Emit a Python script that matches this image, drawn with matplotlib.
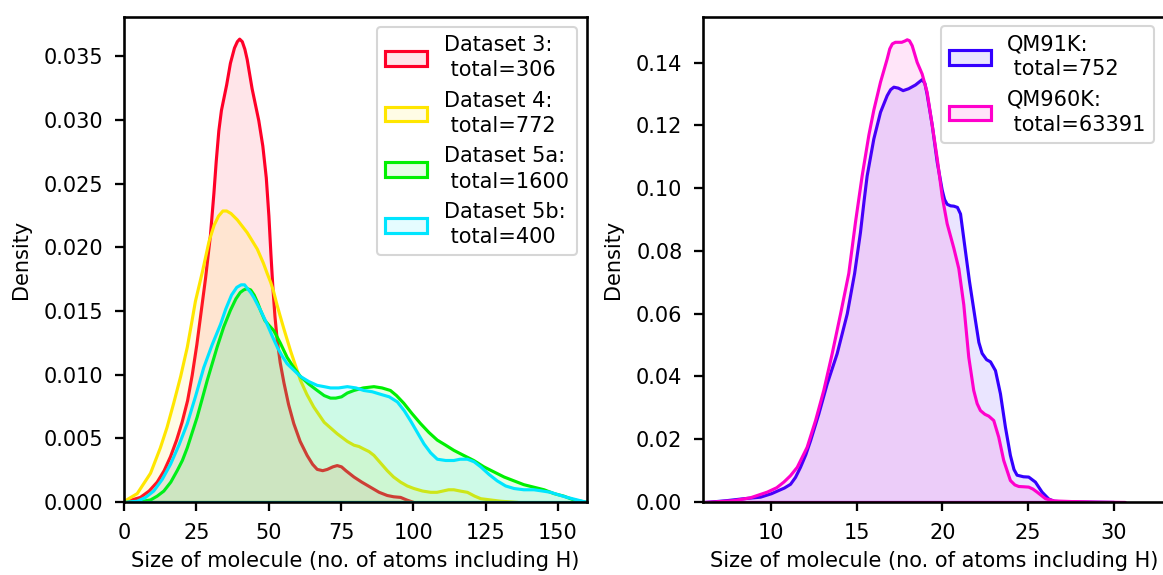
import matplotlib
matplotlib.use("Agg")
import matplotlib.pyplot as plt

# ---------------- Left panel data ----------------
ds3_x = [0, 1, 5.5, 8.5, 11.3, 13.7, 15.9, 18.0, 19.9, 21.8, 23.4, 25.0, 26.5, 28.0, 29.7, 30.9, 31.7, 32.6, 33.5,
         34.4, 35.3, 36.6, 38.0, 39.0, 39.8, 40.7, 41.6, 42.4, 44.1, 46.4, 47.8, 49.0, 49.9, 50.6, 51.3, 52.0,
         52.8, 53.8, 55.1, 56.7, 58.5, 60.7, 63.1, 65.0, 66.6, 68.5, 70.1, 72.0, 73.5, 75.0, 76.5, 79.3, 82.0,
         85.0, 88.0, 90.8, 93.0, 95.4, 97.5, 100.0]
ds3_y = [0.0000, 0.0001, 0.0004, 0.0009, 0.0016, 0.0025, 0.0036, 0.0049, 0.0063, 0.0080, 0.0100, 0.0124, 0.0150,
         0.0176, 0.0210, 0.0243, 0.0268, 0.0292, 0.0308, 0.0318, 0.0328, 0.0345, 0.0357, 0.0362, 0.0364, 0.0362,
         0.0356, 0.0348, 0.0325, 0.0300, 0.0280, 0.0255, 0.0225, 0.0195, 0.0168, 0.0146, 0.0127, 0.0110, 0.0094,
         0.0077, 0.0062, 0.0048, 0.0037, 0.0030, 0.0026, 0.0025, 0.0026, 0.0028, 0.0029, 0.0028, 0.0025, 0.0020,
         0.0016, 0.0012, 0.0008, 0.00055, 0.00045, 0.0004, 0.0002, 0.0000]

ds4_x = [0, 4.4, 9.0, 12.4, 14.7, 17.0, 19.4, 21.7, 23.2, 24.5, 26.9, 29.2, 31.0, 32.5, 34.0, 35.3, 36.8, 39.0,
         42.4, 45.9, 48.0, 49.3, 50.5, 51.5, 52.5, 53.6, 55.0, 57.4, 60.8, 63.0, 65.4, 69.0, 73.5, 77.0, 79.3,
         81.0, 82.7, 84.5, 86.2, 88.5, 90.8, 93.0, 95.4, 97.7, 100.0, 103.0, 105.8, 108.0, 110.0, 112.0, 113.8,
         116.0, 118.5, 121.0, 123.1, 126.5, 130.0, 136.0]
ds4_y = [0.0001, 0.0007, 0.0023, 0.0043, 0.0059, 0.0078, 0.0099, 0.0122, 0.0141, 0.0158, 0.0181, 0.0205, 0.0218,
         0.0225, 0.0229, 0.0229, 0.0227, 0.0222, 0.0212, 0.0199, 0.0188, 0.0180, 0.0173, 0.0166, 0.0157, 0.0148,
         0.0137, 0.0119, 0.0096, 0.0085, 0.0075, 0.0063, 0.0054, 0.0048, 0.0045, 0.0044, 0.0042, 0.0040, 0.0037,
         0.0031, 0.0025, 0.0020, 0.0016, 0.0013, 0.0011, 0.0009, 0.0008, 0.0008, 0.0009, 0.0010, 0.0010, 0.0009,
         0.0008, 0.0005, 0.0003, 0.0002, 0.0001, 0.0000]

ds5a_x = [0, 2, 5.5, 9.0, 11.3, 13.6, 16.0, 18.2, 20.0, 21.7, 23.4, 25.1, 26.8, 28.6, 30.3, 32.0, 34.3, 36.6, 38.5,
          40.0, 41.2, 42.4, 43.6, 44.8, 46.0, 47.0, 48.5, 50.0, 51.6, 53.9, 56.2, 58.5, 60.8, 63.7, 66.6, 69.0,
          71.2, 73.0, 75.0, 77.0, 79.3, 82.5, 86.2, 89.0, 91.9, 94.0, 96.5, 99.3, 102.3, 105.2, 108.1, 111.0,
          113.8, 117.2, 120.7, 124.2, 127.7, 131.2, 134.6, 138.0, 141.5, 145.0, 148.4, 151.8, 155.3, 157.7, 160]
ds5a_y = [0.0000, 0.00002, 0.00007, 0.0002, 0.0005, 0.0009, 0.0016, 0.0025, 0.0033, 0.0043, 0.0055, 0.0067, 0.0081,
          0.0096, 0.0109, 0.0122, 0.0138, 0.0151, 0.0160, 0.0165, 0.0167, 0.0168, 0.0167, 0.0163, 0.0157, 0.0151,
          0.0143, 0.0139, 0.0135, 0.0125, 0.0114, 0.0106, 0.0099, 0.0093, 0.0088, 0.0084, 0.0082, 0.0082, 0.0083,
          0.0086, 0.0088, 0.0090, 0.0091, 0.0090, 0.0088, 0.0084, 0.0078, 0.0070, 0.0062, 0.0055, 0.0049, 0.0045,
          0.0041, 0.0037, 0.0033, 0.0028, 0.0024, 0.0020, 0.0017, 0.0014, 0.0012, 0.0010, 0.0007, 0.0005, 0.0002,
          0.0001, 0.0000]

ds5b_x = [0, 4.4, 7.3, 10.1, 13.0, 15.9, 18.8, 21.7, 24.5, 27.4, 30.3, 33.2, 35.0, 37.0, 38.8, 40.3, 41.5, 42.5,
          43.6, 44.7, 47.0, 49.3, 51.0, 52.8, 54.5, 56.2, 58.5, 60.8, 63.7, 66.6, 69.0, 71.2, 74.0, 77.0, 80.0,
          82.7, 85.6, 88.5, 91.5, 94.3, 96.7, 98.9, 101.2, 103.5, 105.8, 108.1, 111.0, 113.8, 116.0, 118.5, 120.8,
          123.1, 126.0, 128.8, 131.7, 134.6, 138.0, 141.5, 144.5, 147.3, 150.0, 153.0, 156.5, 160]
ds5b_y = [0.0000, 0.0001, 0.0004, 0.0009, 0.0018, 0.0030, 0.0045, 0.0062, 0.0083, 0.0106, 0.0124, 0.0140, 0.0152,
          0.0163, 0.0169, 0.0171, 0.0171, 0.0168, 0.0165, 0.0161, 0.0151, 0.0140, 0.0131, 0.0122, 0.0115, 0.0109,
          0.0104, 0.0099, 0.0095, 0.0092, 0.0091, 0.0090, 0.0090, 0.0091, 0.0090, 0.0088, 0.0087, 0.0085, 0.0083,
          0.0079, 0.0072, 0.0064, 0.0055, 0.0046, 0.0039, 0.0034, 0.0033, 0.0033, 0.0034, 0.0034, 0.0032, 0.0028,
          0.0022, 0.0017, 0.0013, 0.0011, 0.0010, 0.0010, 0.0009, 0.0008, 0.0006, 0.0004, 0.0002, 0.0000]

left_labels = ["Dataset 3:\n total=306", "Dataset 4:\n total=772",
               "Dataset 5a:\n total=1600", "Dataset 5b:\n total=400"]
left_colors = ["#ff0028", "#ffe600", "#00f000", "#00e5ff"]

# ---------------- Right panel data ----------------
qm1k_x = [6.1, 6.4, 7.41, 8.38, 9.36, 10.0, 10.33, 10.75, 11.11, 11.40, 11.69, 12.0, 12.28, 12.76, 13.25, 13.83,
          14.42, 14.85, 15.19, 15.40, 15.58, 15.97, 16.36, 16.75, 16.95, 17.14, 17.40, 17.68, 18.0, 18.4, 18.79,
          18.95, 19.08, 19.38, 19.67, 19.96, 20.10, 20.25, 20.45, 20.64, 20.85, 21.03, 21.25, 21.55, 21.90, 22.10,
          22.29, 22.55, 22.78, 23.07, 23.36, 23.65, 23.94, 24.15, 24.33, 24.70, 25.01, 25.40, 25.79, 26.18, 26.5,
          27.0, 28.5, 30.0]
qm1k_y = [0.0000, 0.0001, 0.0006, 0.0012, 0.0017, 0.0028, 0.0036, 0.0046, 0.0058, 0.0080, 0.0112, 0.0152, 0.0197,
          0.0282, 0.0378, 0.0474, 0.0601, 0.0730, 0.0860, 0.0960, 0.1040, 0.1158, 0.1243, 0.1296, 0.1315, 0.1323,
          0.1320, 0.1312, 0.1318, 0.1330, 0.1347, 0.1335, 0.1300, 0.1201, 0.1084, 0.0995, 0.0965, 0.0950, 0.0945,
          0.0944, 0.0940, 0.0919, 0.0828, 0.0705, 0.0580, 0.0510, 0.0475, 0.0455, 0.0448, 0.0420, 0.0346, 0.0240,
          0.0150, 0.0105, 0.0087, 0.0082, 0.0081, 0.0065, 0.0033, 0.0011, 0.0004, 0.0002, 0.0001, 0.0000]

qm60k_x = [6.1, 6.44, 7.80, 8.77, 9.75, 10.30, 10.72, 11.10, 11.50, 12.08, 12.57, 13.05, 13.54, 14.03, 14.51, 14.90,
           15.29, 15.68, 15.97, 16.36, 16.75, 16.90, 17.05, 17.23, 17.6, 17.78, 17.92, 18.05, 18.21, 18.50, 18.79,
           19.08, 19.38, 19.67, 19.96, 20.25, 20.64, 20.93, 21.22, 21.51, 21.80, 22.0, 22.19, 22.45, 22.68, 22.97,
           23.26, 23.55, 23.94, 24.20, 24.43, 24.75, 25.01, 25.25, 25.50, 25.99, 26.5, 27.5, 29.0, 30.65]
qm60k_y = [0.0000, 0.0001, 0.0006, 0.0015, 0.0033, 0.0047, 0.0065, 0.0085, 0.0112, 0.0176, 0.0261, 0.0357, 0.0474,
           0.0601, 0.0730, 0.0893, 0.1041, 0.1170, 0.1250, 0.1339, 0.1413, 0.1445, 0.1461, 0.1466, 0.1466, 0.1470,
           0.1474, 0.1471, 0.1455, 0.1402, 0.1365, 0.1307, 0.1201, 0.1095, 0.0975, 0.0888, 0.0810, 0.0745, 0.0630,
           0.0463, 0.0357, 0.0315, 0.0293, 0.0281, 0.0275, 0.0261, 0.0208, 0.0134, 0.0070, 0.0056, 0.0051, 0.0050,
           0.0049, 0.0043, 0.0033, 0.0012, 0.0005, 0.0003, 0.0001, 0.0000]

right_labels = ["QM91K:\n total=752", "QM960K:\n total=63391"]
right_colors = ["#3300ff", "#ff00cc"]

xlabel = "Size of molecule (no. of atoms including H)"
ylabel = "Density"

# ---------------- Figure ----------------
plt.rcParams["font.family"] = ["DejaVu Sans"]
plt.rcParams["font.size"] = 10
plt.rcParams["axes.linewidth"] = 1.25
for ax_ in ("xtick", "ytick"):
    plt.rcParams[f"{ax_}.major.size"] = 4.3
    plt.rcParams[f"{ax_}.major.width"] = 1.1
    plt.rcParams[f"{ax_}.major.pad"] = 5.6

W, H, DPI = 1163, 575, 150
fig = plt.figure(figsize=(W / DPI, H / DPI), dpi=DPI)
ax1 = fig.add_axes([124 / W, 73 / H, 463 / W, 485 / H])
ax2 = fig.add_axes([703 / W, 73 / H, 463 / W, 485 / H])


def kde_like(ax, x, y, color, label):
    ax.fill_between(x, 0, y, facecolor=(matplotlib.colors.to_rgb(color) + (0.1,)),
                    edgecolor=color, linewidth=1.5, label=label)


left_series = [(ds3_x, ds3_y), (ds4_x, ds4_y), (ds5a_x, ds5a_y), (ds5b_x, ds5b_y)]
for (x, y), c, lab in zip(left_series, left_colors, left_labels):
    kde_like(ax1, x, y, c, lab)
ax1.set_xlim(0, 160)
ax1.set_ylim(0, 0.0381)
ax1.set_xticks([0, 25, 50, 75, 100, 125, 150])
ax1.set_yticks([0, 0.005, 0.01, 0.015, 0.02, 0.025, 0.03, 0.035])
ax1.set_xlabel(xlabel)
ax1.set_ylabel(ylabel, labelpad=6)
leg1 = ax1.legend(loc="upper right", bbox_to_anchor=(577 / W, 1 - 27 / H), bbox_transform=fig.transFigure,
                  borderaxespad=0)
for t in leg1.get_texts():
    t.set_linespacing(1.32)

right_series = [(qm1k_x, qm1k_y), (qm60k_x, qm60k_y)]
for (x, y), c, lab in zip(right_series, right_colors, right_labels):
    kde_like(ax2, x, y, c, lab)
ax2.set_xlim(6.03, 33.05)
ax2.set_ylim(0, 0.1545)
ax2.set_xticks([10, 15, 20, 25, 30])
ax2.set_yticks([0, 0.02, 0.04, 0.06, 0.08, 0.10, 0.12, 0.14])
ax2.set_xlabel(xlabel)
ax2.set_ylabel(ylabel, labelpad=6)
leg2 = ax2.legend(loc="upper right", bbox_to_anchor=(1154 / W, 1 - 26 / H), bbox_transform=fig.transFigure,
                  borderaxespad=0)
for t in leg2.get_texts():
    t.set_linespacing(1.32)

fig.savefig("out.png", dpi=DPI)
